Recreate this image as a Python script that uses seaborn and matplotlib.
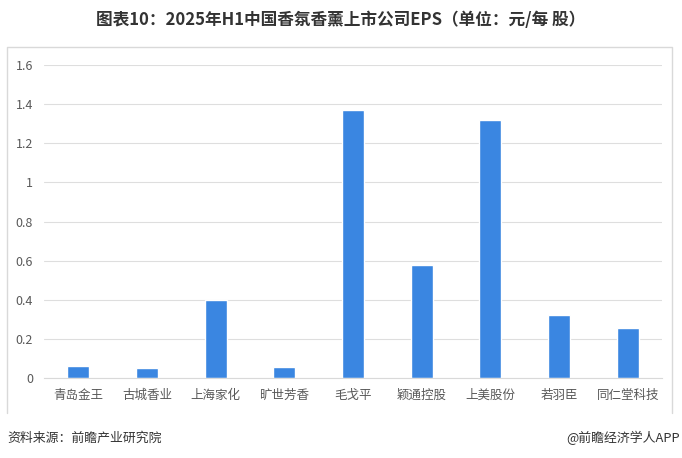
import matplotlib
matplotlib.use('Agg')
import matplotlib.pyplot as plt
import seaborn as sns
import pandas as pd
from matplotlib.lines import Line2D

companies = ['青岛金王', '古城香业', '上海家化', '旷世芳香', '毛戈平', '颖通控股', '上美股份', '若羽臣', '同仁堂科技']
eps = [0.061, 0.051, 0.399, 0.056, 1.37, 0.578, 1.319, 0.322, 0.256]
yticks = [0, 0.2, 0.4, 0.6, 0.8, 1, 1.2, 1.4, 1.6]
ytick_labels = ['0', '0.2', '0.4', '0.6', '0.8', '1', '1.2', '1.4', '1.6']

sns.set_style('white')
plt.rcParams['font.family'] = ['Noto Sans CJK SC', 'DejaVu Sans']

df = pd.DataFrame({'company': companies, 'eps': eps})

fig = plt.figure(figsize=(6.82, 4.58), dpi=100)
ax = fig.add_axes([0.0645, 0.1747, 0.9065, 0.6833])

sns.barplot(data=df, x='company', y='eps', color='#3a86e1', saturation=1, width=0.32, ax=ax)

ax.set_ylim(0, 1.6)
ax.set_yticks(yticks)
ax.set_yticklabels(ytick_labels)
ax.set_xlim(-0.5, len(companies) - 0.5)
ax.yaxis.grid(True, color='#dedede', linewidth=0.8)
ax.set_axisbelow(True)
for s in ['top', 'right', 'left']:
    ax.spines[s].set_visible(False)
ax.spines['bottom'].set_color('#d9d9d9')
ax.tick_params(axis='both', length=0, labelsize=9, colors='#595959')
ax.tick_params(axis='x', pad=8)
ax.tick_params(axis='y', pad=8)
ax.set_xlabel('')
ax.set_ylabel('')

# outer frame (no bottom edge, like the source)
x0, x1 = 7 / 682, 672 / 682
y0, y1 = 1 - 413 / 458, 1 - 47 / 458
fig.lines.append(Line2D([x0, x0, x1, x1], [y0, y1, y1, y0], transform=fig.transFigure,
                        color='#d9d9d9', linewidth=1))

fig.text(0.5, 1 - 20 / 458, '图表10：2025年H1中国香氛香薰上市公司EPS（单位：元/每 股）',
         ha='center', va='center', fontsize=12, fontweight='bold', color='#333333')
fig.text(7 / 682, 1 - 438 / 458, '资料来源：前瞻产业研究院', ha='left', va='center',
         fontsize=9.3, color='#333333')
fig.text(680 / 682, 1 - 438 / 458, '@前瞻经济学人APP', ha='right', va='center',
         fontsize=9.3, color='#333333')

fig.savefig('out.png', dpi=100)
